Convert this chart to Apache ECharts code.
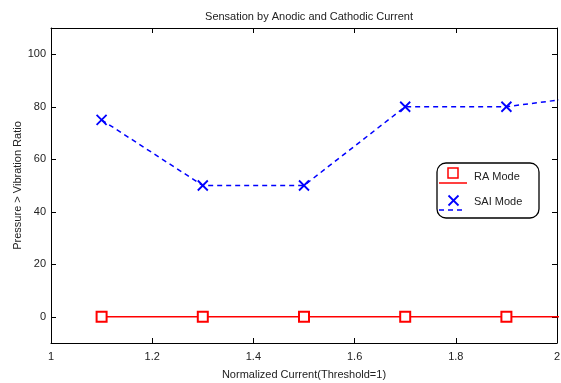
<!DOCTYPE html>
<html>
<head>
<meta charset="utf-8">
<script src="https://cdn.jsdelivr.net/npm/echarts@6/dist/echarts.min.js"></script>
<style>
  html, body { margin: 0; padding: 0; background: #fff; }
  #chart { width: 561px; height: 383px; }
</style>
</head>
<body>
<div id="chart"></div>
<script>
// Normalized stimulation current (threshold = 1)
const currents = [1.1, 1.3, 1.5, 1.7, 1.9, 2.1];
// Pressure > vibration ratio per mode
const raMode = [0, 0, 0, 0, 0, 0];
const saiMode = [75, 50, 50, 80, 80, 85];
// Tick positions
const xTicks = [1, 1.2, 1.4, 1.6, 1.8, 2];
const yTicks = [0, 20, 40, 60, 80, 100];

const FONT = 'Liberation Sans, Arial, sans-serif';
const TXT = '#222';

const toPairs = (xs, ys) => xs.map((x, i) => [x, ys[i]]);

const chart = echarts.init(document.getElementById('chart'), null, { renderer: 'canvas' });

const grid = { left: 51, top: 28, right: 4, bottom: 40, containLabel: false, outerBoundsMode: 'none' };

function axisBase(extra) {
  return Object.assign({
    type: 'value',
    axisLine: { show: true, onZero: false, lineStyle: { color: '#000', width: 1 } },
    axisTick: { show: true, inside: true, length: 5, lineStyle: { color: '#000', width: 1 } },
    splitLine: { show: false }
  }, extra);
}

const option = {
  animation: false,
  backgroundColor: '#fff',
  title: {
    text: 'Sensation by Anodic and Cathodic Current',
    left: 304,
    textAlign: 'center',
    top: 6,
    textStyle: { fontFamily: FONT, fontSize: 11, fontWeight: 'normal', color: TXT }
  },
  grid: grid,
  xAxis: [
    axisBase({
      min: 1, max: 2, position: 'bottom',
      name: 'Normalized Current(Threshold=1)',
      nameLocation: 'middle', nameGap: 26,
      nameMoveOverlap: false,
      nameTextStyle: { fontFamily: FONT, fontSize: 11, color: TXT },
      axisTick: { show: true, inside: true, length: 5, customValues: xTicks, lineStyle: { color: '#000' } },
      axisLabel: { customValues: xTicks, fontFamily: FONT, fontSize: 11, color: TXT, margin: 8,
        formatter: v => String(Math.round(v * 10) / 10) }
    }),
    axisBase({
      min: 1, max: 2, position: 'top',
      axisTick: { show: true, inside: true, length: 5, customValues: xTicks, lineStyle: { color: '#000' } },
      axisLabel: { show: false }
    })
  ],
  yAxis: [
    axisBase({
      min: -10, max: 110, position: 'left',
      name: 'Pressure > Vibration Ratio',
      nameLocation: 'middle', nameGap: 28,
      nameMoveOverlap: false,
      nameTextStyle: { fontFamily: FONT, fontSize: 11, color: TXT },
      axisTick: { show: true, inside: true, length: 5, customValues: yTicks, lineStyle: { color: '#000' } },
      axisLabel: { customValues: yTicks, fontFamily: FONT, fontSize: 11, color: TXT, margin: 5 }
    }),
    axisBase({
      min: -10, max: 110, position: 'right',
      axisTick: { show: true, inside: true, length: 5, customValues: yTicks, lineStyle: { color: '#000' } },
      axisLabel: { show: false }
    })
  ],
  series: [
    {
      name: 'RA Mode',
      type: 'line',
      xAxisIndex: 0, yAxisIndex: 0,
      data: toPairs(currents, raMode),
      clip: true,
      symbol: 'emptyRect',
      symbolSize: 10,
      showAllSymbol: true,
      lineStyle: { color: '#ff0000', width: 1.5 },
      itemStyle: { color: '#ff0000', borderColor: '#ff0000', borderWidth: 1.5 }
    },
    {
      name: 'SAI Mode',
      type: 'line',
      xAxisIndex: 0, yAxisIndex: 0,
      data: toPairs(currents, saiMode),
      clip: true,
      symbol: 'path://M0,0L10,10M10,0L0,10',
      symbolSize: 10,
      showAllSymbol: true,
      lineStyle: { color: '#0000ff', width: 1.5, type: [5, 4] },
      itemStyle: { color: '#0000ff', borderColor: '#0000ff', borderWidth: 1.8 }
    }
  ],
  graphic: [
    // legend frame
    { type: 'rect', z: 100, shape: { x: 437, y: 163, width: 102, height: 55, r: 9 },
      style: { fill: '#fff', stroke: '#000', lineWidth: 1.3 } },
    // RA Mode entry
    { type: 'rect', z: 101, shape: { x: 448, y: 168, width: 10, height: 10 },
      style: { fill: 'none', stroke: '#ff0000', lineWidth: 1.5 } },
    { type: 'line', z: 101, shape: { x1: 439, y1: 183, x2: 467, y2: 183 },
      style: { stroke: '#ff0000', lineWidth: 1.5 } },
    { type: 'text', z: 101, x: 474, y: 177,
      style: { text: 'RA Mode', fontFamily: FONT, fontSize: 11, fill: TXT, verticalAlign: 'middle' } },
    // SAI Mode entry
    { type: 'polyline', z: 101, shape: { points: [[448.5, 195.5], [458.5, 205.5]] },
      style: { stroke: '#0000ff', lineWidth: 1.8 } },
    { type: 'polyline', z: 101, shape: { points: [[458.5, 195.5], [448.5, 205.5]] },
      style: { stroke: '#0000ff', lineWidth: 1.8 } },
    { type: 'line', z: 101, shape: { x1: 439, y1: 210, x2: 465, y2: 210 },
      style: { stroke: '#0000ff', lineWidth: 1.5, lineDash: [5, 4] } },
    { type: 'text', z: 101, x: 474, y: 202,
      style: { text: 'SAI Mode', fontFamily: FONT, fontSize: 11, fill: TXT, verticalAlign: 'middle' } }
  ]
};

chart.setOption(option);
</script>
</body>
</html>
